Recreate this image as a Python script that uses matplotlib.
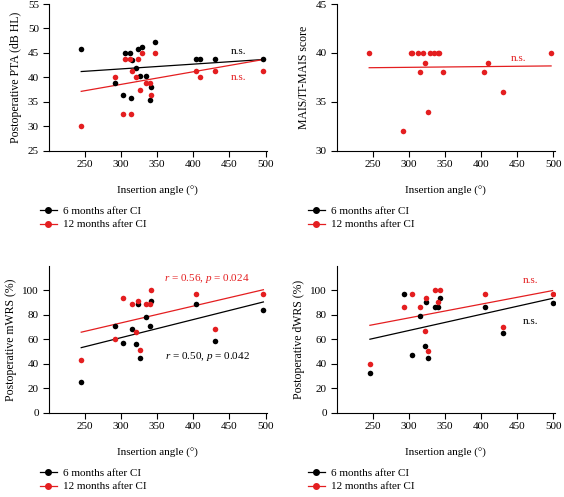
import numpy as np
import matplotlib
matplotlib.use('Agg')
import matplotlib.pyplot as plt
from matplotlib.lines import Line2D

plt.rcParams['font.family'] = ['Liberation Serif', 'DejaVu Serif']
plt.rcParams['font.size'] = 8
plt.rcParams['mathtext.fontset'] = 'custom'
plt.rcParams['mathtext.rm'] = 'Liberation Serif'
plt.rcParams['mathtext.it'] = 'Liberation Serif:italic'

RED = '#e41e20'
BLACK = 'black'

# PTA (all 19 patients)
pta_angle = [245, 292, 303, 305, 312, 314, 315, 321, 323, 326, 329, 335, 340, 342, 347, 404, 409, 430, 497]
pta_6m = [45.8, 38.8, 36.3, 45.0, 45.0, 35.7, 43.5, 42.0, 45.7, 40.3, 46.3, 40.3, 35.3, 38.0, 47.3, 43.8, 43.8, 43.8, 43.8]
pta_12m = [30.0, 40.0, 32.5, 43.8, 43.8, 32.5, 41.3, 40.0, 43.8, 37.5, 45.0, 38.8, 38.8, 36.3, 45.0, 41.3, 40.0, 41.3, 41.3]

# MAIS / IT-MAIS (12 months only)
mais_angle = [245, 292, 303, 305, 312, 315, 320, 323, 326, 329, 335, 340, 342, 347, 404, 409, 430, 497]
mais_12m = [40, 32, 40, 40, 40, 38, 40, 39, 34, 40, 40, 40, 40, 38, 38, 39, 36, 40]

# mWRS
wrs_angle = [245, 292, 303, 315, 321, 323, 326, 335, 340, 342, 404, 430, 497]
mwrs_6m = [25.0, 71.1, 56.9, 68.1, 56.1, 88.6, 45.0, 78.2, 71.1, 91.3, 88.6, 58.9, 83.9]
mwrs_12m = [42.8, 59.9, 94.0, 88.6, 65.7, 91.3, 51.5, 88.6, 88.6, 100.0, 97.0, 68.7, 97.0]

# dWRS
dwrs_angle = [246, 293, 304, 316, 322, 324, 327, 336, 341, 343, 405, 431, 499]
dwrs_6m = [32.7, 96.7, 46.9, 78.7, 54.2, 90.2, 44.4, 86.1, 86.6, 93.5, 86.6, 65.4, 89.6]
dwrs_12m = [40.1, 86.6, 96.7, 86.6, 66.8, 93.5, 50.1, 100.0, 90.2, 100.0, 96.7, 70.0, 96.7]

fig = plt.figure(figsize=(5.64, 4.97), dpi=100)

W, H = 564, 497
def axes_px(left, top, right, bottom):
    return fig.add_axes([left / W, 1 - bottom / H, (right - left) / W, (bottom - top) / H])

ax1 = axes_px(48.7, 4, 267, 150.7)
ax2 = axes_px(336.7, 4, 554.7, 150.7)
ax3 = axes_px(48.7, 266, 267, 412.7)
ax4 = axes_px(336.7, 266, 554.7, 412.7)


def fit_line(ax, x, y, color):
    x = np.array(x, float)
    y = np.array(y, float)
    k, b = np.polyfit(x, y, 1)
    xs = np.array([x.min(), x.max()])
    ax.plot(xs, k * xs + b, color=color, lw=0.9, zorder=2)


def style(ax, ylim, yticks, ylabel):
    ax.set_xlim(200, 502)
    ax.set_ylim(*ylim)
    ax.set_xticks([250, 300, 350, 400, 450, 500])
    ax.set_yticks(yticks)
    for s in ['top', 'right']:
        ax.spines[s].set_visible(False)
    for s in ['left', 'bottom']:
        ax.spines[s].set_linewidth(0.8)
    ax.tick_params(direction='out', length=4, width=0.8, labelsize=8, pad=3)
    ax.set_xlabel('Insertion angle (°)', fontsize=8, labelpad=12)
    ax.set_ylabel(ylabel, fontsize=8.5)


ms = 16
# panel 1
ax1.scatter(pta_angle, pta_6m, s=ms, color=BLACK, zorder=3, lw=0)
ax1.scatter(pta_angle, pta_12m, s=ms, color=RED, zorder=3, lw=0)
fit_line(ax1, pta_angle, pta_6m, BLACK)
fit_line(ax1, pta_angle, pta_12m, RED)
ax1.text(463, 45.3, 'n.s.', color=BLACK, ha='center', va='center', fontsize=8)
ax1.text(463, 40.0, 'n.s.', color=RED, ha='center', va='center', fontsize=8)
style(ax1, (25, 55), [25, 30, 35, 40, 45, 50, 55], 'Postoperative PTA (dB HL)')

# panel 2
ax2.scatter(mais_angle, mais_12m, s=ms, color=RED, zorder=3, lw=0)
fit_line(ax2, mais_angle, mais_12m, RED)
ax2.text(452, 39.4, 'n.s.', color=RED, ha='center', va='center', fontsize=8)
style(ax2, (30, 45), [30, 35, 40, 45], 'MAIS/IT-MAIS score')

# panel 3
ax3.scatter(wrs_angle, mwrs_6m, s=ms, color=BLACK, zorder=3, lw=0)
ax3.scatter(wrs_angle, mwrs_12m, s=ms, color=RED, zorder=3, lw=0)
fit_line(ax3, wrs_angle, mwrs_6m, BLACK)
fit_line(ax3, wrs_angle, mwrs_12m, RED)
ax3.text(419, 109.5, r'$r$ = 0.56, $p$ = 0.024', color=RED, ha='center', va='center', fontsize=8)
ax3.text(419, 45.8, r'$r$ = 0.50, $p$ = 0.042', color=BLACK, ha='center', va='center', fontsize=8)
style(ax3, (0, 120), [0, 20, 40, 60, 80, 100], 'Postoperative mWRS (%)')

# panel 4
ax4.scatter(dwrs_angle, dwrs_6m, s=ms, color=BLACK, zorder=3, lw=0)
ax4.scatter(dwrs_angle, dwrs_12m, s=ms, color=RED, zorder=3, lw=0)
fit_line(ax4, dwrs_angle, dwrs_6m, BLACK)
fit_line(ax4, dwrs_angle, dwrs_12m, RED)
ax4.text(468, 108.4, 'n.s.', color=RED, ha='center', va='center', fontsize=8)
ax4.text(468, 74.4, 'n.s.', color=BLACK, ha='center', va='center', fontsize=8)
style(ax4, (0, 120), [0, 20, 40, 60, 80, 100], 'Postoperative dWRS (%)')

handles = [Line2D([], [], color=BLACK, marker='o', ms=4, lw=0.9),
           Line2D([], [], color=RED, marker='o', ms=4, lw=0.9)]
labels = ['6 months after CI', '12 months after CI']
for x0, y0 in [(40, 206), (308, 206), (40, 468), (308, 468)]:
    fig.legend(handles, labels, loc='upper left', bbox_to_anchor=(x0 / W, 1 - y0 / H),
               frameon=False, fontsize=8, handlelength=1.5, handletextpad=0.6,
               labelspacing=0.35, borderaxespad=0, borderpad=0)

fig.savefig('out.png', dpi=100)
